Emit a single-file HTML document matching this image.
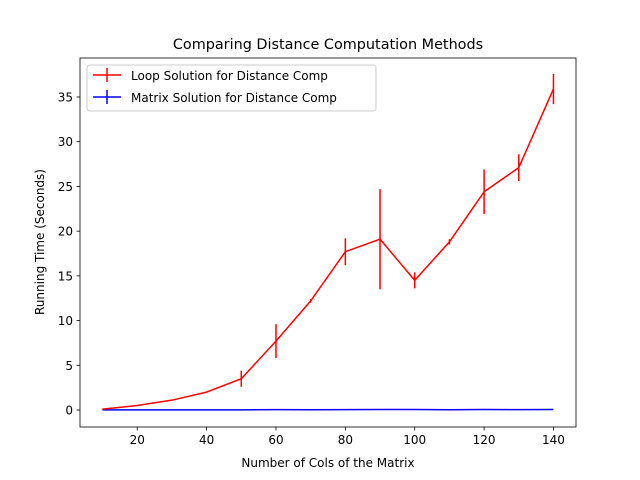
<!DOCTYPE html>
<html><head><meta charset="utf-8"><style>
body{margin:0;background:#fff}
svg{display:block;font-family:"DejaVu Sans","Liberation Sans",sans-serif}
</style></head><body>
<svg id="chart" width="640" height="480">
<rect width="640" height="480" fill="#fff"/>
<text x="328" y="49" font-size="14.4" text-anchor="middle">Comparing Distance Computation Methods</text>
<g id="plot"></g>
<rect x="80" y="58" width="496" height="369" fill="none" stroke="#000" stroke-width="0.8"/>
<text x="328" y="467" font-size="12" text-anchor="middle">Number of Cols of the Matrix</text>
<text transform="translate(44,242) rotate(-90)" font-size="12" text-anchor="middle">Running Time (Seconds)</text>
<g>
<rect x="87" y="65" width="289" height="46" rx="3" fill="#fff" stroke="#ccc" stroke-width="1"/>
<g>
<line x1="93" y1="75" x2="121" y2="75" stroke="red" stroke-width="1.5"/><line x1="107" y1="68" x2="107" y2="82" stroke="red" stroke-width="1.5"/>
<text x="131" y="80" font-size="12">Loop Solution for Distance Comp</text></g>
<g>
<line x1="93" y1="97" x2="121" y2="97" stroke="blue" stroke-width="1.5"/><line x1="107" y1="90" x2="107" y2="104" stroke="blue" stroke-width="1.5"/>
<text x="131" y="102" font-size="12">Matrix Solution for Distance Comp</text></g>
</g>
</svg>
<script>
const cols=[10,20,30,40,50,60,70,80,90,100,110,120,130,140];
const loopTimes=[0.1,0.5,1.1,2.0,3.5,7.7,12.2,17.7,19.1,14.5,18.8,24.4,27.1,35.9];
const loopErr=[0.05,0.05,0.05,0.05,0.9,1.9,0.2,1.5,5.6,0.9,0.3,2.5,1.5,1.7];
const matrixTimes=[0.02,0.01,0.01,0.02,0.02,0.04,0.03,0.04,0.05,0.05,0.03,0.06,0.04,0.06];
const matrixErr=[0,0,0,0,0,0,0,0,0,0,0,0,0,0];
const xTicks=[20,40,60,80,100,120,140];
const yTicks=[0,5,10,15,20,25,30,35];
const X0=80,X1=576,Y0=427,Y1=58,xmin=3.5,xmax=146.5,ymin=-1.9,ymax=39.36;
const sx=v=>X0+(v-xmin)/(xmax-xmin)*(X1-X0);
const sy=v=>Y0-(v-ymin)/(ymax-ymin)*(Y0-Y1);
const g=document.getElementById('plot');const NS='http://www.w3.org/2000/svg';
function mk(t,a){const e=document.createElementNS(NS,t);for(const k in a)e.setAttribute(k,a[k]);g.appendChild(e);return e;}
xTicks.forEach(v=>{const l=mk('line',{x1:sx(v),x2:sx(v),y1:Y0,y2:Y0+3.5,stroke:'#000','stroke-width':0.8});


const t=mk('text',{x:sx(v),y:Y0+17,'font-size':12,'text-anchor':'middle'});t.textContent=v;

});
yTicks.forEach(v=>{const l=mk('line',{x1:X0-3.5,x2:X0,y1:sy(v),y2:sy(v),stroke:'#000','stroke-width':0.8});


const t=mk('text',{x:X0-7,y:sy(v)+4.5,'font-size':12,'text-anchor':'end'});t.textContent=v;

});
function series(ys,es,c,name){
const p=mk('polyline',{points:cols.map((x,i)=>sx(x)+','+sy(ys[i])).join(' '),fill:'none',stroke:c,'stroke-width':1.5});


cols.forEach((x,i)=>{if(es[i]>0){const e=mk('line',{x1:sx(x),x2:sx(x),y1:sy(ys[i]-es[i]),y2:sy(ys[i]+es[i]),stroke:c,'stroke-width':1.5});

}});}
series(matrixTimes,matrixErr,'blue','matrix');
series(loopTimes,loopErr,'red','loop');
</script>
</body></html>
